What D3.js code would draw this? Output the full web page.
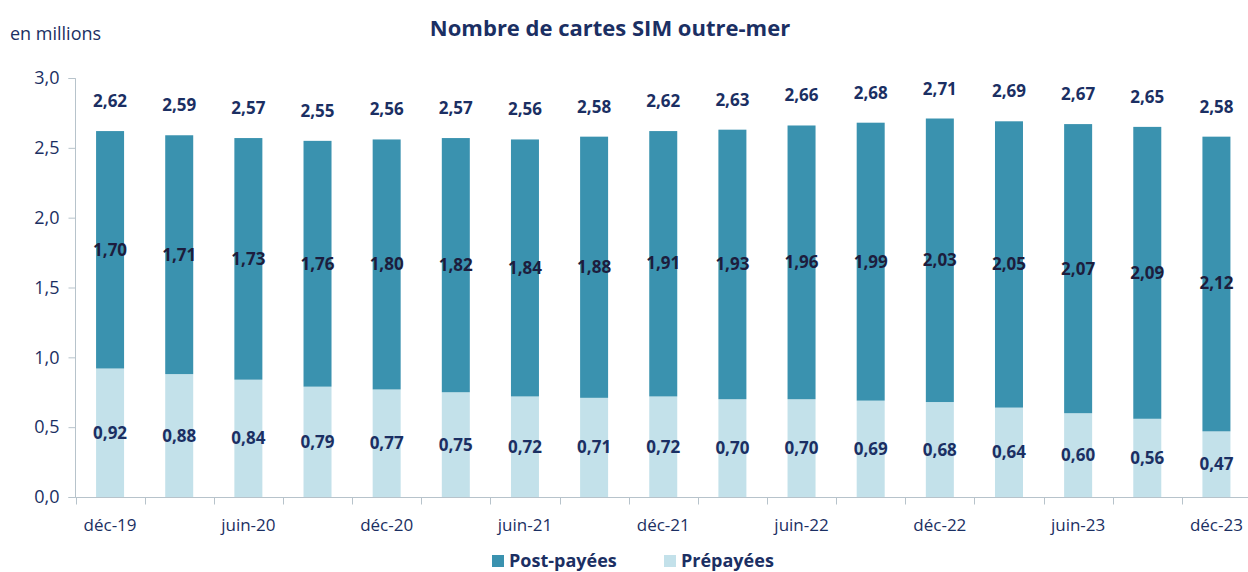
<!doctype html>
<html>
<head>
<meta charset="UTF-8">
<title>Nombre de cartes SIM outre-mer</title>
<script src="https://cdn.jsdelivr.net/npm/d3@7"></script>
<style>
  body { margin: 0; background: #fff; }
  text { font-family: "Open Sans", sans-serif; }
</style>
</head>
<body>
<script>
// periods (quarterly), only every other one is labelled
var periods = ["déc-19","mars-20","juin-20","sept-20","déc-20","mars-21","juin-21","sept-21",
               "déc-21","mars-22","juin-22","sept-22","déc-22","mars-23","juin-23","sept-23","déc-23"];
var prepayees = [0.92,0.88,0.84,0.79,0.77,0.75,0.72,0.71,0.72,0.70,0.70,0.69,0.68,0.64,0.60,0.56,0.47];
var postpayees = [1.70,1.71,1.73,1.76,1.80,1.82,1.84,1.88,1.91,1.93,1.96,1.99,2.03,2.05,2.07,2.09,2.12];
var totals = [2.62,2.59,2.57,2.55,2.56,2.57,2.56,2.58,2.62,2.63,2.66,2.68,2.71,2.69,2.67,2.65,2.58];
var yTicks = [0,0.5,1,1.5,2,2.5,3];

var W = 1248, H = 572;
var navy = "#1b2f63";
var cPost = "#3a92af", cPre = "#c3e1ea";
var fmt = function(v){ return d3.format(".2f")(v).replace(".", ","); };

var svg = d3.select("body").append("svg").attr("width", W).attr("height", H);

var x = d3.scaleBand().domain(periods).range([75.5, 1251]).paddingInner(0).paddingOuter(0);
var y = d3.scaleLinear().domain([0, 3]).range([497, 78]);
var bw = 28;

// y axis
var yAxis = svg.append("g").attr("transform", "translate(75.5,0)")
  .call(d3.axisLeft(y).tickValues(yTicks).tickSize(7).tickPadding(9)
        .tickFormat(function(d){ return d3.format(".1f")(d).replace(".", ","); }));
yAxis.selectAll("path,line").attr("stroke", "#b7c3cb");
yAxis.selectAll("text").attr("fill", navy).style("font-size", "18px");
yAxis.select(".domain").attr("d", "M-7,78.5H0V497.5H-7");

// x axis: tick marks on band boundaries
var gx = svg.append("g").attr("transform", "translate(0,497.5)");
gx.append("line").attr("x1", 75.5).attr("x2", 1251).attr("stroke", "#b7c3cb");
gx.selectAll(".tk").data(periods).enter().append("line")
  .attr("x1", function(d){ return Math.round(x(d)) + 0.5; })
  .attr("x2", function(d){ return Math.round(x(d)) + 0.5; })
  .attr("y1", 0).attr("y2", 7).attr("stroke", "#b7c3cb");
gx.selectAll(".lbl").data(periods.filter(function(d,i){ return i % 2 === 0; })).enter().append("text")
  .attr("x", function(d){ return x(d) + x.bandwidth()/2; })
  .attr("y", 33).attr("text-anchor", "middle").attr("fill", navy)
  .style("font-size", "17px").text(function(d){ return d; });

// bars
var bars = svg.append("g");
periods.forEach(function(p, i){
  var cx = x(p) + x.bandwidth()/2;
  bars.append("rect").attr("x", cx - bw/2).attr("width", bw)
    .attr("y", y(prepayees[i])).attr("height", y(0) - y(prepayees[i])).attr("fill", cPre);
  bars.append("rect").attr("x", cx - bw/2).attr("width", bw)
    .attr("y", y(totals[i])).attr("height", y(prepayees[i]) - y(totals[i])).attr("fill", cPost);
  // labels
  bars.append("text").attr("x", cx).attr("y", y(prepayees[i]/2) + 6)
    .attr("text-anchor", "middle").attr("fill", navy).style("font-size", "17px")
    .style("font-weight", "bold").text(fmt(prepayees[i]));
  bars.append("text").attr("x", cx).attr("y", y(prepayees[i] + postpayees[i]/2) + 6)
    .attr("text-anchor", "middle").attr("fill", "#1d1d3d").style("font-size", "17px")
    .style("font-weight", "bold").text(fmt(postpayees[i]));
  bars.append("text").attr("x", cx).attr("y", y(totals[i]) - 24)
    .attr("text-anchor", "middle").attr("fill", navy).style("font-size", "17px")
    .style("font-weight", "bold").text(fmt(totals[i]));
});

// title & unit
svg.append("text").attr("x", 610).attr("y", 36).attr("text-anchor", "middle")
  .attr("fill", navy).style("font-size", "22px").style("font-weight", "bold")
  .text("Nombre de cartes SIM outre-mer");
svg.append("text").attr("x", 10).attr("y", 40).attr("fill", navy)
  .style("font-size", "18px").text("en millions");

// legend
var legend = [["Post-payées", cPost, 492], ["Prépayées", cPre, 664]];
legend.forEach(function(l){
  svg.append("rect").attr("x", l[2]).attr("y", 555).attr("width", 12).attr("height", 12).attr("fill", l[1]);
  svg.append("text").attr("x", l[2] + 17).attr("y", 567).attr("fill", navy)
    .style("font-size", "18px").style("font-weight", "bold").text(l[0]);
});
</script>
</body>
</html>
